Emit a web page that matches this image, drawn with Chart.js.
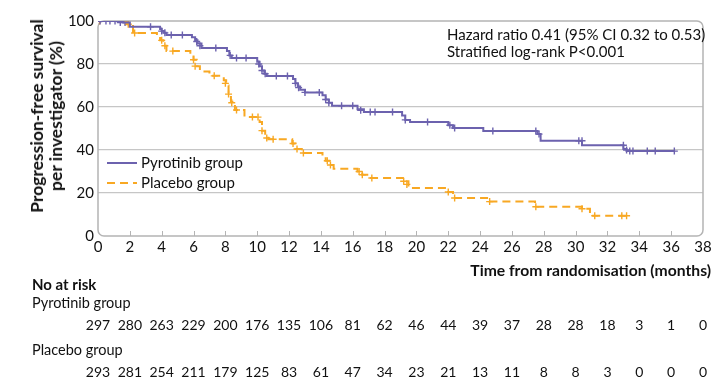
<!DOCTYPE html>
<html>
<head>
<meta charset="utf-8">
<script src="https://cdn.jsdelivr.net/npm/chart.js@4.4.0/dist/chart.umd.min.js"></script>
<style>
  html, body { margin: 0; padding: 0; background: #fff; }
  #wrap { position: relative; width: 727px; height: 392px; font-family: Lato, "Open Sans", sans-serif; color: #111; }
  #wrap canvas { position: absolute; left: 0; top: 0; }
  .txt { position: absolute; white-space: nowrap; line-height: 18px; }
  .num { position: absolute; white-space: nowrap; line-height: 18px; font-size: 14px; transform: translateX(-50%); }
  .ytitle { position: absolute; left: 46px; top: 116px; transform: translate(-50%, -50%) rotate(-90deg);
            font-weight: bold; font-size: 17.5px; line-height: 19px; text-align: center; white-space: nowrap; }
</style>
</head>
<body>
<div id="wrap">
  <canvas id="km" width="727" height="392"></canvas>
  <div class="ytitle">Progression-free survival<br>per investigator (%)</div>
  <div class="txt" style="left:447px; top:26px; font-size:15px; line-height:17px;">Hazard ratio 0.41 (95% CI 0.32 to 0.53)<br>Stratified log-rank P&lt;0.001</div>
  <svg style="position:absolute; left:106px; top:155px;" width="32" height="36">
    <line x1="1" y1="8" x2="31" y2="8" stroke="#6C62AE" stroke-width="2"/>
    <line x1="1" y1="28" x2="31" y2="28" stroke="#F8A823" stroke-width="2" stroke-dasharray="8 5"/>
  </svg>
  <div class="txt" style="left:141px; top:153px; font-size:15px;">Pyrotinib group</div>
  <div class="txt" style="left:141px; top:173px; font-size:15px;">Placebo group</div>
  <div class="txt" style="right:16px; top:261px; font-size:15.7px; font-weight:bold;">Time from randomisation (months)</div>
  <div class="txt" style="left:32px; top:275px; font-size:15px; font-weight:bold;">No at risk</div>
  <div class="txt" style="left:32px; top:294px; font-size:14.5px;">Pyrotinib group</div>
  <div class="txt" style="left:32px; top:341px; font-size:14.5px;">Placebo group</div>
  <div id="risk"></div>
</div>
<script>
// Kaplan-Meier step points (months, % progression-free)
const pyroTime = [0, 1.6, 2.0, 3.9, 4.0, 4.15, 4.3, 5.9, 6.1, 6.25, 6.5, 8.1, 8.25, 8.4, 10.0, 10.15, 10.3, 10.45, 10.6,
  12.25, 12.4, 12.55, 12.7, 13.0, 14.1, 14.3, 14.5, 14.7, 16.3, 16.7, 19.1, 19.3, 19.6, 22.0, 22.3, 24.2,
  27.6, 27.8, 30.4, 33.0, 33.2, 36.2];
const pyroSurv = [100, 99.3, 97.3, 96.3, 95.3, 94.5, 93.5, 92.5, 91, 89.5, 87.4, 86, 84, 82.8, 81, 79, 77, 75.5, 74.4,
  73, 71, 69.5, 68, 66.8, 65.5, 63.5, 62, 60.6, 59, 57.7, 56, 54, 53, 51.5, 50.2, 48.8,
  47.4, 44.3, 42.2, 40.5, 39.5, 39.5];

const placeboTime = [0, 1.8, 2.2, 3.7, 3.9, 4.1, 4.3, 5.8, 6.0, 6.2, 6.4, 7.0, 7.9, 8.05, 8.2, 8.35, 8.6, 9.2,
  10.15, 10.3, 10.5, 10.7, 12.2, 12.4, 12.8, 14.1, 14.3, 14.6, 14.8, 16.3, 16.6, 17.0, 19.15, 19.5,
  21.9, 22.3, 24.6, 27.45, 30.4, 30.9, 33.2];
const placeboSurv = [100, 98.5, 94.4, 93, 91, 88.5, 86, 84.5, 82, 79, 76.5, 74.5, 72.5, 70, 66, 62.5, 58.6, 55.3,
  53, 49, 46.5, 45, 43, 40.5, 38.6, 37, 35, 33, 31.3, 30, 28.5, 27, 25.5, 22.3,
  20.5, 17.7, 16, 13.6, 12.7, 9.4, 9.4];

// censoring marks
const pyroCensorTime = [0.13, 0.5, 0.75, 1.07, 1.4, 1.7, 3.3, 4.0, 4.2, 4.6, 5.3, 6.2, 6.4, 7.4, 8.3, 8.7, 9.3,
  10.1, 10.3, 10.5, 11.2, 11.9, 12.4, 12.6, 13.0, 13.9, 14.3, 14.5, 15.3, 16.0, 16.5, 17.1, 17.4, 18.5,
  19.3, 20.7, 22.1, 22.4, 24.8, 27.5, 27.7, 30.2, 30.4, 33.0, 33.2, 33.4, 33.6, 34.5, 35.0, 36.2];
const pyroCensorSurv = [100, 100, 100, 100, 99.3, 99.3, 97.3, 95.3, 94.5, 93.5, 93.5, 90.5, 88.5, 87.4, 84, 82.8, 82.8,
  80, 77, 75.5, 74.4, 74.4, 71, 69, 66.8, 66.8, 63.5, 62, 60.6, 60.6, 58.5, 57.7, 57.7, 57.7,
  54, 53, 51.5, 50.2, 48.8, 48.8, 47.4, 44.3, 44.3, 42.2, 40, 39.5, 39.5, 39.5, 39.5, 39.5];

const placeboCensorTime = [0.1, 1.9, 2.3, 4.0, 4.2, 4.7, 6.0, 6.1, 7.3, 8.0, 8.2, 8.4, 8.7, 9.7, 10.05, 10.3, 10.6,
  11.0, 12.25, 12.5, 12.9, 14.4, 14.6, 16.4, 16.6, 17.2, 19.2, 19.4, 22.0, 22.4, 24.6, 27.5, 30.4, 31.2, 32.9, 33.2];
const placeboCensorSurv = [100, 98.5, 94.4, 91, 88.5, 86, 82, 79, 74.5, 71, 66, 62, 58.6, 55.3, 55.3, 49, 45.6,
  45, 43, 40.5, 38.6, 35, 33, 30, 28.5, 27, 25.5, 24, 20.5, 17.7, 16, 13.6, 12.7, 9.4, 9.4, 9.4];

// numbers at risk
const riskTimes = [0, 2, 4, 6, 8, 10, 12, 14, 16, 18, 20, 22, 24, 26, 28, 30, 32, 34, 36, 38];
const pyroAtRisk = [297, 280, 263, 229, 200, 176, 135, 106, 81, 62, 46, 44, 39, 37, 28, 28, 18, 3, 1, 0];
const placeboAtRisk = [293, 281, 254, 211, 179, 125, 83, 61, 47, 34, 23, 21, 13, 11, 8, 8, 3, 0, 0, 0];

const PURPLE = '#6C62AE';
const ORANGE = '#F8A823';

const pts = (xs, ys) => xs.map((x, i) => ({ x, y: ys[i] }));

const frame = {
  id: 'frame',
  beforeDatasetsDraw(chart) {
    const { ctx, chartArea: a, scales } = chart;
    ctx.save();
    ctx.strokeStyle = '#b4b4b4';
    ctx.lineWidth = 1.5;
    ctx.beginPath();
    ctx.roundRect(a.left, a.top, a.right - a.left, a.bottom - a.top, 6);
    ctx.stroke();
    ctx.beginPath();
    for (let t = 2; t < 38; t += 2) {
      const x = Math.round(scales.x.getPixelForValue(t)) + 0.5;
      ctx.moveTo(x, a.bottom);
      ctx.lineTo(x, a.bottom - 5);
    }
    ctx.lineWidth = 1;
    ctx.stroke();
    ctx.restore();
  }
};

const chart = new Chart(document.getElementById('km'), {
  type: 'line',
  data: {
    datasets: [
      { data: pts(pyroTime, pyroSurv), borderColor: PURPLE, borderWidth: 2, stepped: true, pointRadius: 0, fill: false },
      { data: pts(placeboTime, placeboSurv), borderColor: ORANGE, borderWidth: 2, borderDash: [8, 5], stepped: true, pointRadius: 0, fill: false },
      { data: pts(pyroCensorTime, pyroCensorSurv), showLine: false, pointStyle: 'cross', pointRadius: 3.5,
        borderColor: PURPLE, pointBorderWidth: 1.4 },
      { data: pts(placeboCensorTime, placeboCensorSurv), showLine: false, pointStyle: 'cross', pointRadius: 3.5,
        borderColor: ORANGE, pointBorderWidth: 1.4 }
    ]
  },
  options: {
    responsive: false,
    animation: false,
    layout: { padding: { left: 0, top: 21, right: 24, bottom: 136 } },
    plugins: { legend: { display: false }, tooltip: { enabled: false } },
    scales: {
      x: {
        type: 'linear', min: 0, max: 38,
        ticks: { stepSize: 2, color: '#111', padding: 2, font: { family: 'Lato', size: 15 } },
        grid: { display: false, drawTicks: false },
        border: { display: false },
        afterFit: s => { s.height = 20; }
      },
      y: {
        min: 0, max: 100,
        ticks: { stepSize: 20, color: '#111', padding: 4, font: { family: 'Lato', size: 15 } },
        grid: { drawTicks: false, color: c => (c.tick.value > 0 && c.tick.value < 100) ? '#c6c6c6' : 'transparent', lineWidth: 1.2 },
        border: { display: false },
        afterFit: s => { s.width = 98; }
      }
    }
  },
  plugins: [frame]
});

// numbers at risk aligned to the x axis ticks
const risk = document.getElementById('risk');
riskTimes.forEach((t, i) => {
  const x = chart.scales.x.getPixelForValue(t);
  [[pyroAtRisk[i], 316], [placeboAtRisk[i], 363]].forEach(([v, top]) => {
    const d = document.createElement('div');
    d.className = 'num';
    d.style.left = x + 'px';
    d.style.top = top + 'px';
    d.textContent = v;
    risk.appendChild(d);
  });
});
</script>
</body>
</html>
